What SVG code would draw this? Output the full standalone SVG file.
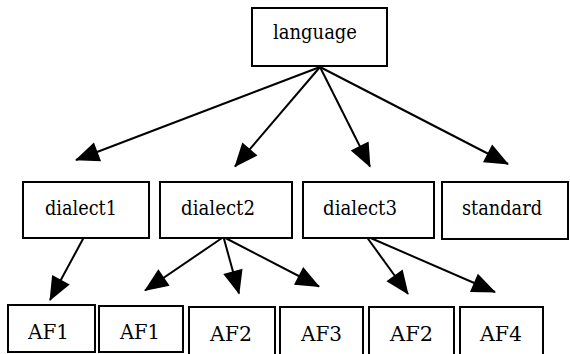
<svg xmlns="http://www.w3.org/2000/svg" width="570" height="354" viewBox="0 0 570 354">
<style>
.box{fill:#fff;stroke:#000;stroke-width:2}
.t{font-family:'DejaVu Serif','Liberation Serif',serif;font-size:21px;fill:#000}
.c{stroke:#000;stroke-width:2;fill:none;marker-end:url(#ah)}
</style>
<defs>
<marker id="ah" markerUnits="userSpaceOnUse" markerWidth="24" markerHeight="20" refX="23" refY="10" orient="auto" overflow="visible">
<path d="M0,0 L24,10 L0,20 Z" fill="#000"/>
</marker>
</defs>
<g id="connectors">
<line class="c" x1="320" y1="67" x2="76" y2="160"/>
<line class="c" x1="320" y1="67" x2="235" y2="166.5"/>
<line class="c" x1="320" y1="67" x2="370" y2="166.5"/>
<line class="c" x1="320" y1="67" x2="508" y2="164"/>
<line class="c" x1="83.5" y1="238" x2="50" y2="300"/>
<line class="c" x1="223.5" y1="237" x2="145" y2="290.5"/>
<line class="c" x1="223.5" y1="237" x2="239" y2="293.5"/>
<line class="c" x1="223.5" y1="237" x2="319" y2="286.5"/>
<line class="c" x1="366" y1="236" x2="408" y2="294"/>
<line class="c" x1="366" y1="236" x2="495" y2="292"/>
</g>
<g id="language"><rect class="box" x="252" y="8" width="135" height="58"/><text class="t" x="273" y="39" textLength="84" lengthAdjust="spacingAndGlyphs">language</text></g>
<g id="dialect1"><rect class="box" x="23" y="182" width="126" height="56"/><text class="t" x="45" y="215" textLength="72" lengthAdjust="spacingAndGlyphs">dialect1</text></g>
<g id="dialect2"><rect class="box" x="160" y="182" width="132" height="56"/><text class="t" x="181" y="215" textLength="74" lengthAdjust="spacingAndGlyphs">dialect2</text></g>
<g id="dialect3"><rect class="box" x="303" y="182" width="131" height="56"/><text class="t" x="323" y="215" textLength="74" lengthAdjust="spacingAndGlyphs">dialect3</text></g>
<g id="standard"><rect class="box" x="442" y="182" width="126" height="57"/><text class="t" x="462" y="215" textLength="80" lengthAdjust="spacingAndGlyphs">standard</text></g>
<g id="af1a"><rect class="box" x="8" y="305" width="87" height="47"/><text class="t" x="28" y="339" textLength="41" lengthAdjust="spacingAndGlyphs">AF1</text></g>
<g id="af1b"><rect class="box" x="99" y="306" width="84" height="46"/><text class="t" x="120" y="339" textLength="40" lengthAdjust="spacingAndGlyphs">AF1</text></g>
<g id="af2a"><rect class="box" x="189" y="307" width="86" height="48"/><text class="t" x="210" y="341" textLength="42" lengthAdjust="spacingAndGlyphs">AF2</text></g>
<g id="af3"><rect class="box" x="280" y="307" width="83" height="48"/><text class="t" x="301" y="341" textLength="41" lengthAdjust="spacingAndGlyphs">AF3</text></g>
<g id="af2b"><rect class="box" x="369" y="307" width="85" height="48"/><text class="t" x="390" y="341" textLength="43" lengthAdjust="spacingAndGlyphs">AF2</text></g>
<g id="af4"><rect class="box" x="460" y="307" width="83" height="48"/><text class="t" x="480" y="341" textLength="42" lengthAdjust="spacingAndGlyphs">AF4</text></g>
</svg>
